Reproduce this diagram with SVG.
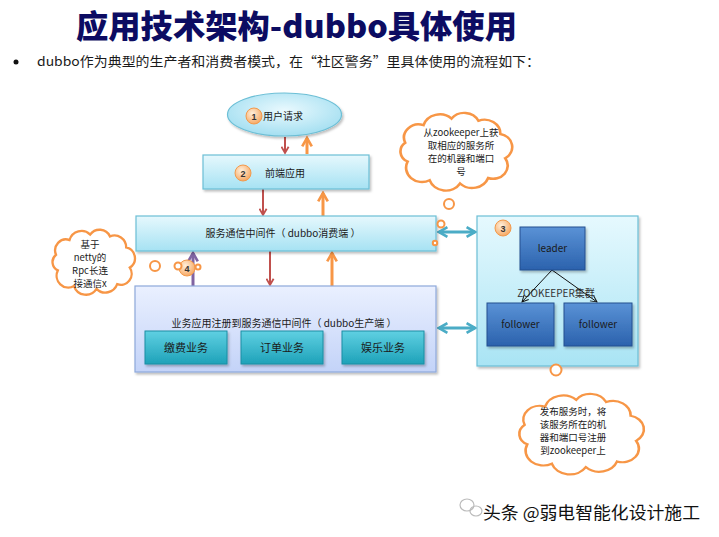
<svg xmlns="http://www.w3.org/2000/svg" width="719" height="537" viewBox="0 0 719 537">
<style>
.t{font-family:"Noto Sans CJK SC","Liberation Sans",sans-serif;fill:#1a1a1a;}
.c{text-anchor:middle;}
.lb{stroke:#6cbfd6;stroke-width:1.2;fill:url(#gCyan);}
.cloud{fill:#fff;stroke:#f79646;stroke-width:2.5;}
.bub{fill:#fff;stroke:#f79646;stroke-width:2;}
.badge{fill:url(#gBadge);stroke:#f39a4c;stroke-width:1;}
.bt{font-family:"Liberation Sans",sans-serif;font-weight:bold;font-size:9px;fill:#333;text-anchor:middle;}
.teal{fill:url(#gTeal);stroke:#1b8ea3;stroke-width:1;}
.blue{fill:url(#gBlue);stroke:#244f8f;stroke-width:1;}
</style>
<defs>
<linearGradient id="gCyan" x1="0" y1="0" x2="0" y2="1"><stop offset="0" stop-color="#e6f8fd"/><stop offset="1" stop-color="#a6e2f3"/></linearGradient>
<linearGradient id="gZk" x1="0" y1="0" x2="0" y2="1"><stop offset="0" stop-color="#e6f9fe"/><stop offset="1" stop-color="#a9e4f4"/></linearGradient>
<linearGradient id="gLav" x1="0" y1="0" x2="0" y2="1"><stop offset="0" stop-color="#eaf0ff"/><stop offset="1" stop-color="#c3d3f8"/></linearGradient>
<linearGradient id="gTeal" x1="0" y1="0" x2="0" y2="1"><stop offset="0" stop-color="#5fd0e2"/><stop offset="1" stop-color="#1ea2b9"/></linearGradient>
<linearGradient id="gBlue" x1="0" y1="0" x2="0" y2="1"><stop offset="0" stop-color="#5a92d6"/><stop offset="1" stop-color="#2b62ad"/></linearGradient>
<radialGradient id="gEll" cx="0.5" cy="0.4" r="0.6"><stop offset="0" stop-color="#e9f9fe"/><stop offset="1" stop-color="#a4dff1"/></radialGradient>
<radialGradient id="gBadge" cx="0.4" cy="0.35" r="0.7"><stop offset="0" stop-color="#fff0dc"/><stop offset="1" stop-color="#f6a45c"/></radialGradient>
<filter id="sh" x="-5%" y="-5%" width="115%" height="120%"><feDropShadow dx="1.5" dy="2" stdDeviation="1" flood-color="#000" flood-opacity="0.25"/></filter>
<path id="cloudp" d="M12 45 A10 10 0 0 1 10 28 A12 12 0 0 1 25 12 A14 14 0 0 1 48 6 A13 13 0 0 1 70 8 A13 13 0 0 1 88 20 A12 12 0 0 1 92 42 A12 12 0 0 1 78 60 A14 14 0 0 1 55 65 A14 14 0 0 1 30 62 A13 13 0 0 1 12 45 Z"/>
<marker id="mRed" viewBox="0 0 10 10" refX="8" refY="5" markerWidth="9" markerHeight="9" orient="auto" markerUnits="userSpaceOnUse"><path d="M1,1 L8,5 L1,9" fill="none" stroke="#c0504d" stroke-width="2"/></marker>
<marker id="mOr" viewBox="0 0 10 10" refX="8" refY="5" markerWidth="12" markerHeight="12" orient="auto" markerUnits="userSpaceOnUse"><path d="M1,1 L8,5 L1,9" fill="none" stroke="#f79646" stroke-width="2.2"/></marker>
<marker id="mPu" viewBox="0 0 10 10" refX="8" refY="5" markerWidth="12" markerHeight="12" orient="auto" markerUnits="userSpaceOnUse"><path d="M1,1 L8,5 L1,9" fill="none" stroke="#8064a2" stroke-width="2.2"/></marker>
<marker id="mCy" viewBox="0 0 10 10" refX="8" refY="5" markerWidth="12" markerHeight="12" orient="auto-start-reverse" markerUnits="userSpaceOnUse"><path d="M1,1 L8,5 L1,9" fill="none" stroke="#4bacc6" stroke-width="2.2"/></marker>
<marker id="mBk" viewBox="0 0 10 10" refX="9" refY="5" markerWidth="8" markerHeight="8" orient="auto" markerUnits="userSpaceOnUse"><path d="M1,1 L9,5 L1,9" fill="none" stroke="#111" stroke-width="1.2"/></marker>
</defs>
<rect width="719" height="537" fill="#fff"/>

<g id="title">
<text x="76" y="38" textLength="441" lengthAdjust="spacingAndGlyphs" style="font-family:'Noto Sans CJK SC','Liberation Sans',sans-serif;font-weight:900;font-size:32px;fill:#0c0c62;">应用技术架构-dubbo具体使用</text>
<circle cx="16" cy="62" r="2.5" fill="#111"/>
<text class="t" x="37" y="66" font-size="13" textLength="503" lengthAdjust="spacingAndGlyphs">dubbo作为典型的生产者和消费者模式，在“社区警务”里具体使用的流程如下：</text>
</g>

<g id="connectors">
<line x1="285" y1="137" x2="285" y2="153" stroke="#c0504d" stroke-width="2" marker-end="url(#mRed)"/>
<line x1="307" y1="154" x2="307" y2="138" stroke="#f79646" stroke-width="3" marker-end="url(#mOr)"/>
<line x1="263" y1="189" x2="263" y2="215" stroke="#c0504d" stroke-width="2" marker-end="url(#mRed)"/>
<line x1="323" y1="216" x2="323" y2="193" stroke="#f79646" stroke-width="3" marker-end="url(#mOr)"/>
<line x1="270" y1="251" x2="270" y2="285" stroke="#c0504d" stroke-width="2" marker-end="url(#mRed)"/>
<line x1="332" y1="286" x2="332" y2="253" stroke="#f79646" stroke-width="3" marker-end="url(#mOr)"/>
<line x1="193" y1="286" x2="193" y2="253" stroke="#8064a2" stroke-width="3" marker-end="url(#mPu)"/>
<line x1="439" y1="232" x2="475" y2="232" stroke="#4bacc6" stroke-width="3" marker-start="url(#mCy)" marker-end="url(#mCy)"/>
<line x1="439" y1="328" x2="475" y2="328" stroke="#4bacc6" stroke-width="3" marker-start="url(#mCy)" marker-end="url(#mCy)"/>
</g>

<g id="user-request">
<ellipse cx="284.5" cy="114.5" rx="57" ry="21.5" fill="url(#gEll)" stroke="#6cbfd6" stroke-width="1.2" filter="url(#sh)"/>
<circle class="badge" cx="254" cy="116" r="8"/><text class="bt" x="254" y="119.5">1</text>
<text class="t" x="263" y="119.5" font-size="10">用户请求</text>
</g>

<g id="frontend">
<rect class="lb" x="203" y="155" width="166" height="34" filter="url(#sh)"/>
<circle class="badge" cx="243" cy="173" r="8"/><text class="bt" x="243" y="176.5">2</text>
<text class="t" x="265" y="176.5" font-size="10">前端应用</text>
</g>

<g id="consumer">
<rect class="lb" x="136" y="216" width="300" height="35" filter="url(#sh)"/>
<text class="t c" x="283" y="237" font-size="10">服务通信中间件（ dubbo消费端 ）</text>
</g>

<g id="producer">
<rect x="135" y="286" width="301" height="86" fill="url(#gLav)" stroke="#8ea9da" stroke-width="1.2" filter="url(#sh)"/>
<text class="t c" x="284" y="327" font-size="10">业务应用注册到服务通信中间件（ dubbo生产端 ）</text>
</g>
<g id="biz-pay"><rect class="teal" x="145" y="331" width="82" height="33" filter="url(#sh)"/><text class="t c" x="186" y="352" font-size="11">缴费业务</text></g>
<g id="biz-order"><rect class="teal" x="241" y="331" width="82" height="33" filter="url(#sh)"/><text class="t c" x="282" y="352" font-size="11">订单业务</text></g>
<g id="biz-ent"><rect class="teal" x="342" y="331" width="82" height="33" filter="url(#sh)"/><text class="t c" x="383" y="352" font-size="11">娱乐业务</text></g>

<g id="badge4">
<circle class="badge" cx="187" cy="268" r="8"/><text class="bt" x="187" y="271.5">4</text>
</g>

<g id="zookeeper">
<rect x="477" y="216" width="161" height="150" fill="url(#gZk)" stroke="#6cbfd6" stroke-width="1.2" filter="url(#sh)"/>
<circle class="badge" cx="503" cy="228" r="8"/><text class="bt" x="503" y="231.5">3</text>
<text class="t c" x="556" y="297" font-size="10" style="fill:#333">ZOOKEEPER集群</text>
<line x1="552" y1="270" x2="522" y2="302" stroke="#111" stroke-width="1" marker-end="url(#mBk)"/>
<line x1="552" y1="270" x2="597" y2="302" stroke="#111" stroke-width="1" marker-end="url(#mBk)"/>
</g>
<g id="leader"><rect class="blue" x="520" y="227" width="65" height="43" filter="url(#sh)"/><text class="t c" x="552.5" y="252" font-size="10">leader</text></g>
<g id="follower1"><rect class="blue" x="487" y="303" width="67" height="43" filter="url(#sh)"/><text class="t c" x="520.5" y="328" font-size="10">follower</text></g>
<g id="follower2"><rect class="blue" x="564" y="303" width="68" height="43" filter="url(#sh)"/><text class="t c" x="598" y="328" font-size="10">follower</text></g>

<g id="cloud-zk">
<use href="#cloudp" class="cloud" transform="translate(393,112) scale(1.22,1.1)" style="stroke-width:2.2"/>
<circle class="bub" cx="449" cy="204" r="5"/>
<circle class="bub" cx="441" cy="224" r="3.5"/>
<circle class="bub" cx="435" cy="243" r="2.2"/>
<text class="t c" font-size="9.5"><tspan x="461" y="136">从zookeeper上获</tspan><tspan x="461" y="149">取相应的服务所</tspan><tspan x="461" y="162">在的机器和端口</tspan><tspan x="461" y="175">号</tspan></text>
</g>

<g id="cloud-netty">
<use href="#cloudp" class="cloud" transform="translate(47,229) scale(0.9,0.92)" style="stroke-width:2.6"/>
<circle class="bub" cx="155" cy="266" r="5"/>
<circle class="bub" cx="178" cy="266" r="3.5"/>
<circle class="bub" cx="198" cy="267" r="2.5"/>
<text class="t c" font-size="9.5"><tspan x="90" y="248">基于</tspan><tspan x="90" y="261">netty的</tspan><tspan x="90" y="274">Rpc长连</tspan><tspan x="90" y="287">接通信x</tspan></text>
</g>

<g id="cloud-publish">
<use href="#cloudp" class="cloud" transform="translate(511,393) scale(1.36,1.14)" style="stroke-width:1.9"/>
<circle class="bub" cx="556" cy="370" r="5.5"/>
<text class="t c" font-size="9.5"><tspan x="573" y="415">发布服务时，将</tspan><tspan x="573" y="428">该服务所在的机</tspan><tspan x="573" y="441">器和端口号注册</tspan><tspan x="573" y="454">到zookeeper上</tspan></text>
</g>

<g id="watermark">
<ellipse cx="467" cy="505" rx="7" ry="6" fill="none" stroke="#bbb" stroke-width="1.2"/>
<ellipse cx="476" cy="511" rx="6" ry="5" fill="none" stroke="#bbb" stroke-width="1.2"/>
<text x="483" y="519" style="font-family:'Noto Sans CJK SC',sans-serif;font-size:17px;fill:#111;stroke:#fff;stroke-width:2.5;paint-order:stroke;" textLength="217" lengthAdjust="spacingAndGlyphs">头条 @弱电智能化设计施工</text>
</g>
</svg>
